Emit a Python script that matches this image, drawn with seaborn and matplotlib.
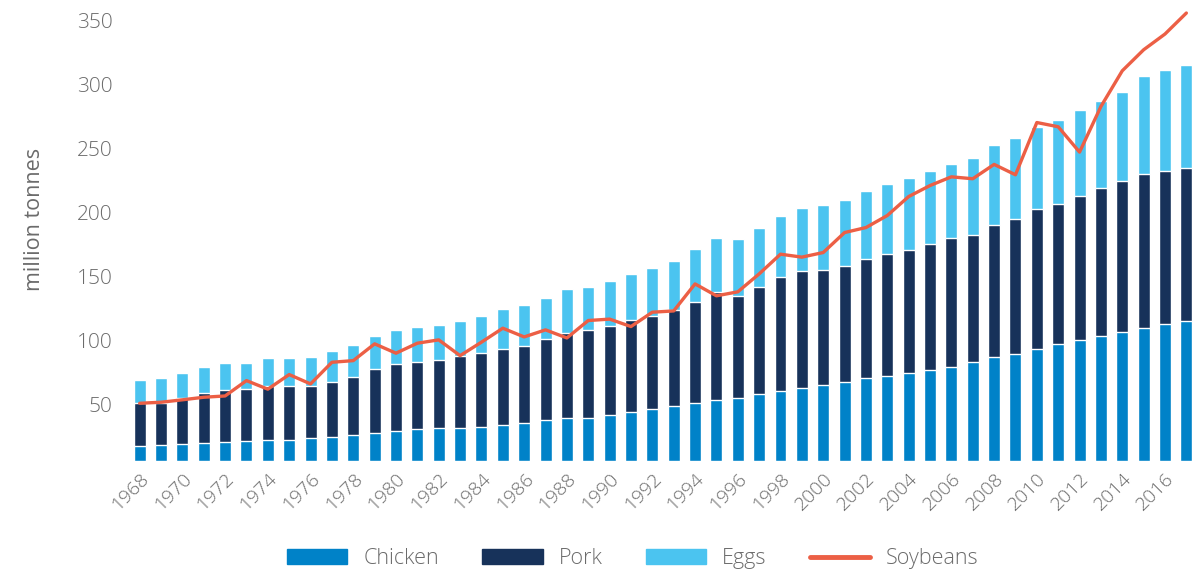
import numpy as np
import pandas as pd
import matplotlib
matplotlib.use("Agg")
import matplotlib.pyplot as plt
import matplotlib.transforms as mtransforms
from matplotlib.patches import Patch
from matplotlib.lines import Line2D
import seaborn as sns

# million tonnes, 1968-2017
years = list(range(1968, 2018))
chicken = [12.0, 12.8, 13.5, 14.4, 15.2, 15.9, 16.6, 16.6, 18.0, 18.8,
           20.3, 21.9, 23.4, 25.0, 25.8, 25.8, 26.6, 28.1, 29.7, 32.0,
           33.6, 33.6, 35.9, 38.3, 40.6, 43.0, 45.3, 47.7, 49.2, 52.3,
           54.7, 57.0, 59.4, 61.7, 64.8, 66.4, 68.8, 71.1, 73.4, 77.3,
           81.2, 83.6, 87.5, 91.4, 94.5, 97.7, 100.8, 103.9, 107.0, 109.4]
pork = [33.3, 32.5, 35.7, 38.8, 40.3, 40.4, 41.9, 41.9, 40.6, 43.0,
        45.3, 50.0, 52.3, 52.3, 53.2, 56.3, 57.8, 59.4, 60.2, 63.3,
        66.5, 68.8, 69.5, 71.9, 72.6, 75.0, 78.9, 84.4, 79.7, 83.6,
        89.1, 91.4, 89.9, 90.6, 93.0, 95.3, 96.1, 98.5, 100.8, 99.2,
        103.1, 105.5, 109.4, 109.3, 112.5, 115.6, 118.0, 120.3, 119.5, 119.6]
eggs = [18.0, 19.6, 19.5, 20.3, 21.1, 20.3, 21.9, 21.9, 22.7, 24.2,
        25.0, 25.8, 26.6, 27.3, 27.3, 27.3, 28.9, 31.2, 32.0, 32.0,
        34.4, 33.6, 35.2, 35.9, 37.5, 38.3, 41.4, 42.2, 44.5, 46.1,
        47.7, 49.2, 50.8, 51.6, 53.1, 54.7, 56.2, 57.0, 57.8, 60.2,
        62.5, 63.3, 64.1, 65.7, 67.2, 68.0, 69.5, 76.5, 78.9, 80.4]
soybeans = [45.1, 45.9, 47.8, 49.8, 50.8, 62.8, 56.1, 67.5, 60.2, 77.1,
            78.4, 91.5, 84.2, 92.0, 94.6, 82.3, 92.8, 103.7, 96.9, 102.4,
            96.1, 109.7, 110.8, 105.0, 116.2, 117.2, 138.3, 129.0, 132.1, 146.1,
            161.5, 159.2, 162.8, 178.4, 182.3, 191.7, 206.5, 215.1, 221.9, 220.4,
            231.6, 223.5, 264.3, 261.0, 241.2, 276.8, 304.7, 321.1, 333.4, 349.8]
y_ticks = [50, 100, 150, 200, 250, 300, 350]

colors = {"Chicken": "#0082c8", "Pork": "#17325a", "Eggs": "#4bc4f0", "Soybeans": "#ec5f45"}
text_color = "#6b6b6b"

df = pd.DataFrame({"year": [str(y) for y in years], "chicken": chicken,
                   "pork": pork, "eggs": eggs, "soybeans": soybeans})
df["lvl_pork"] = df["chicken"] + df["pork"]
df["lvl_eggs"] = df["lvl_pork"] + df["eggs"]

sns.set_style("white")
plt.rcParams["font.family"] = ["Open Sans", "DejaVu Sans"]
plt.rcParams["font.weight"] = "light"

fig = plt.figure(figsize=(12.01, 5.71), dpi=100)
ax = fig.add_axes([0.1074, 0.1926, 0.8893, 0.7985])

# stacked bars: draw the tallest level first and overlay the lower ones
for col, name in [("lvl_eggs", "Eggs"), ("lvl_pork", "Pork"), ("chicken", "Chicken")]:
    sns.barplot(data=df, x="year", y=col, color=colors[name], saturation=1,
                width=0.56, ax=ax, errorbar=None)

sns.lineplot(x=np.arange(len(years)), y=df["soybeans"], color=colors["Soybeans"],
             linewidth=2.4, ax=ax)

ax.set_xlim(-0.5, len(years) - 0.5)
ax.set_ylim(0, 356)
ax.set_yticks(y_ticks)
ax.set_yticklabels([str(v) for v in y_ticks], fontsize=15, color=text_color)
xt = list(range(0, len(years), 2))
ax.set_xticks(xt)
ax.set_xticklabels([str(years[i]) for i in xt], rotation=45, ha="right",
                   rotation_mode="anchor", fontsize=14, color=text_color)
ax.tick_params(axis="both", length=0)
ax.tick_params(axis="y", pad=12)
ax.tick_params(axis="x", pad=6)
ax.set_xlabel("")
ax.set_ylabel("million tonnes", fontsize=15.5, color=text_color)
ax.yaxis.set_label_coords(-0.079, 0.53)
sns.despine(ax=ax, left=True, bottom=True)

# value labels sit slightly lower than their ticks in the original
offset = mtransforms.ScaledTranslation(0, -0.08, fig.dpi_scale_trans)
for lbl in ax.get_yticklabels():
    lbl.set_transform(lbl.get_transform() + offset)

handles = [Patch(color=colors["Chicken"]), Patch(color=colors["Pork"]),
           Patch(color=colors["Eggs"]), Line2D([], [], color=colors["Soybeans"], lw=3.5)]
fig.legend(handles, ["Chicken", "Pork", "Eggs", "Soybeans"], loc="center",
           bbox_to_anchor=(0.527, 0.022), ncol=4, frameon=False, fontsize=15.5,
           labelcolor=text_color, handlelength=2.8, handleheight=0.65,
           handletextpad=0.75, columnspacing=2.0)

fig.savefig("out.png", dpi=100)
